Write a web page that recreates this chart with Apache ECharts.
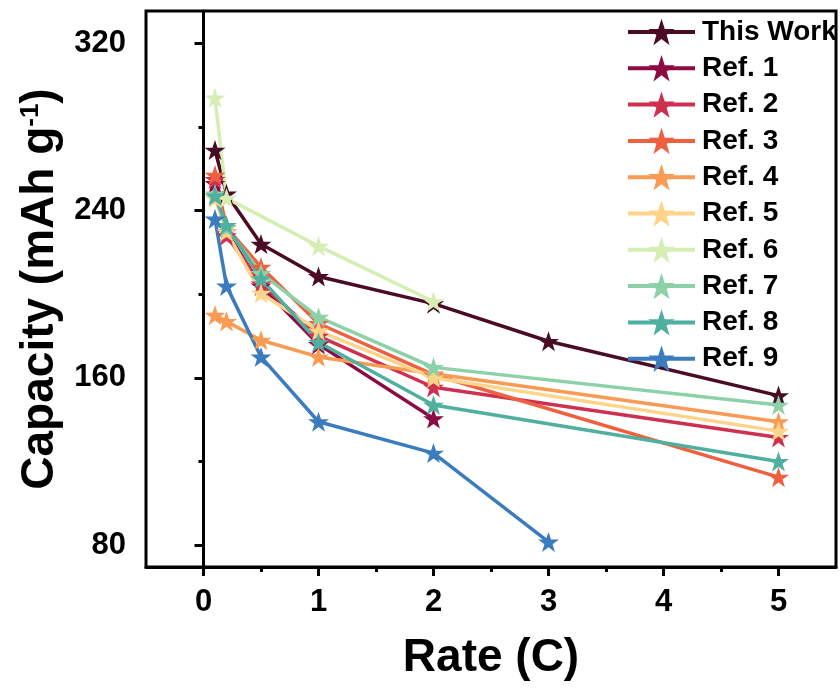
<!DOCTYPE html>
<html>
<head>
<meta charset="utf-8">
<script src="https://cdn.jsdelivr.net/npm/echarts@6/dist/echarts.min.js"></script>
<style>html,body{margin:0;padding:0;background:#fff}#c{width:840px;height:695px}</style>
</head>
<body>
<div id="c"></div>
<script>
const seriesNames = ['This Work','Ref. 1','Ref. 2','Ref. 3','Ref. 4','Ref. 5','Ref. 6','Ref. 7','Ref. 8','Ref. 9'];
const seriesColors = ['#4a0c25','#8e0a45','#d03050','#ef6040','#f99a55','#fdd48a','#d6edb4','#8dd1a8','#4fb0a0','#3a7cbd'];

const thisWorkX = [0.1,0.2,0.5,1,2,3,5];
const thisWorkY = [269,248,224,208.5,195.5,177.5,151.5];
const ref1X = [0.1,0.2,0.5,1,2];
const ref1Y = [253,230,204,176,140.5];
const ref2X = [0.1,0.2,0.5,1,2,5];
const ref2Y = [255,228,205,180,155.5,131.5];
const ref3X = [0.1,0.2,0.5,1,2,5];
const ref3Y = [257,232,213,186,161.5,112.5];
const ref4X = [0.1,0.2,0.5,1,2,5];
const ref4Y = [190,187,178,170,162,139];
const ref5X = [0.1,0.2,0.5,1,2,5];
const ref5Y = [246,230,200.5,182.5,160,134.5];
const ref6X = [0.1,0.2,1,2];
const ref6Y = [294,246,223,196.5];
const ref7X = [0.1,0.2,0.5,1,2,5];
const ref7Y = [248,232,210,189,165,147];
const ref8X = [0.1,0.2,0.5,1,2,5];
const ref8Y = [247,233,207.5,177,147,120];
const ref9X = [0.1,0.2,0.5,1,2,3];
const ref9Y = [236,204,170,139,124,81.5];

const xTicks = [0,1,2,3,4,5];
const xMinorTicks = [0.5,1.5,2.5,3.5,4.5];
const yTicks = [80,160,240,320];
const yMinorTicks = [120,200,280];

const allX = [thisWorkX,ref1X,ref2X,ref3X,ref4X,ref5X,ref6X,ref7X,ref8X,ref9X];
const allY = [thisWorkY,ref1Y,ref2Y,ref3Y,ref4Y,ref5Y,ref6Y,ref7Y,ref8Y,ref9Y];

const star = 'path://M50,0 L61.8,35.1 L98.1,35.1 L68.8,56.7 L79.4,91.9 L50,70.5 L20.6,91.9 L31.2,56.7 L1.9,35.1 L38.2,35.1 Z';
const FONT = 'Liberation Sans, Arial, sans-serif';

const chart = echarts.init(document.getElementById('c'), null, {renderer:'canvas'});
const series = seriesNames.map((n,i)=>({
  name:n, type:'line', xAxisIndex:0, yAxisIndex:0,
  data: allX[i].map((x,j)=>[x, allY[i][j]]),
  symbol: star, symbolSize: 21, symbolKeepAspect:true,
  lineStyle:{width:3.5, color:seriesColors[i]},
  itemStyle:{color:seriesColors[i]},
  emphasis:{disabled:true}, animation:false
}));

chart.setOption({
  animation:false,
  grid:{left:146, right:4, top:11, bottom:128, show:true, borderColor:'#000', borderWidth:3, backgroundColor:'transparent'},
  legend:{
    data:seriesNames, orient:'vertical', left:621, top:13,
    itemWidth:67, itemHeight:33, itemGap:8.3,
    textStyle:{fontFamily:FONT, fontWeight:'bold', fontSize:28, color:'#000', lineHeight:28, padding:[0,0,0,2]},
    itemStyle:{borderWidth:0},
    lineStyle:{width:4}
  },
  xAxis:[{
    type:'value', min:-0.5, max:5.5, position:'bottom',
    name:'Rate (C)', nameLocation:'middle', nameGap:68,
    nameTextStyle:{fontFamily:FONT, fontWeight:'bold', fontSize:46, color:'#000'},
    axisLine:{show:true, lineStyle:{color:'#000', width:3}},
    axisTick:{show:true, inside:false, length:9, lineStyle:{color:'#000', width:3}, customValues:xTicks},
    axisLabel:{show:true, margin:20, fontFamily:FONT, fontWeight:'bold', fontSize:31, color:'#000', customValues:xTicks},
    splitLine:{show:false}
  },{
    type:'value', min:-0.5, max:5.5, position:'bottom',
    axisLine:{show:false},
    axisTick:{show:true, inside:false, length:5, lineStyle:{color:'#000', width:3}, customValues:xMinorTicks},
    axisLabel:{show:false},
    splitLine:{show:false}
  }],
  yAxis:[{
    type:'value', min:69.5, max:335.5, position:'left',
    name:'Capacity (mAh g{s|-1})', nameLocation:'middle', nameGap:76, nameRotate:90,
    nameTextStyle:{fontFamily:FONT, fontWeight:'bold', fontSize:46, color:'#000',
      rich:{s:{fontFamily:FONT, fontWeight:'bold', fontSize:26, color:'#000', verticalAlign:'top', padding:[0,0,18,0]}}},
    axisLine:{show:true, lineStyle:{color:'#000', width:3}},
    axisTick:{show:true, inside:false, length:9, lineStyle:{color:'#000', width:3}, customValues:yTicks},
    axisLabel:{show:true, margin:20, fontFamily:FONT, fontWeight:'bold', fontSize:31, color:'#000', customValues:yTicks},
    splitLine:{show:false}
  },{
    type:'value', min:69.5, max:335.5, position:'left',
    axisLine:{show:false},
    axisTick:{show:true, inside:false, length:5, lineStyle:{color:'#000', width:3}, customValues:yMinorTicks},
    axisLabel:{show:false},
    splitLine:{show:false}
  }],
  series: series
});
</script>
</body>
</html>
